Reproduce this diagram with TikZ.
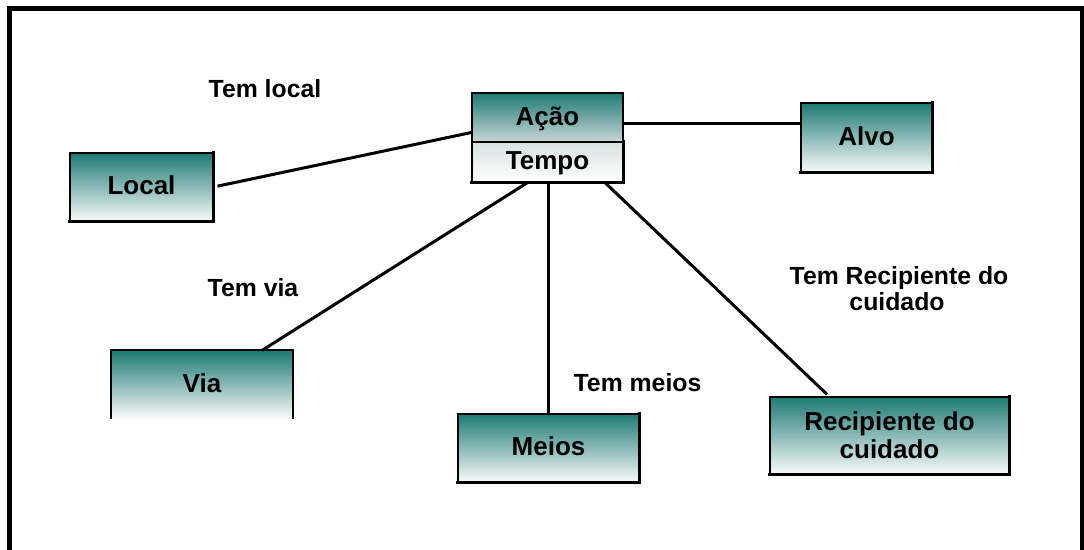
\documentclass[tikz,border=0pt]{standalone}
\usepackage{fontspec}
\setmainfont{Liberation Sans}
\definecolor{boxtop}{RGB}{30,122,116}
\definecolor{boxmid}{RGB}{170,195,193}
\definecolor{boxbot}{RGB}{248,250,250}
\definecolor{tmptop}{RGB}{214,226,225}
\definecolor{acbot}{RGB}{200,215,214}
\begin{document}
\begin{tikzpicture}[x=1pt,y=-1pt,
  box/.style={rectangle, inner sep=0pt, draw=black, line width=1.2pt,
    shading=axis, top color=boxtop, middle color=boxmid, bottom color=boxbot,
    font=\fontsize{26}{28}\selectfont\bfseries, text height=18pt, text depth=3pt},
  lbl/.style={inner sep=0pt, anchor=base, font=\fontsize{24.8}{27}\selectfont\bfseries},
  link/.style={line width=3pt},
  shadowedge/.style={line width=2.6pt, line cap=rect},
  frame/.style={line width=5pt}]
  \useasboundingbox (0,0) rectangle (1084,549);

  % outer frame, open at the bottom
  \draw[frame] (9.5,552) -- (9.5,8.5) -- (1082.5,8.5) -- (1082.5,552);

  % boxes
  \node[box, minimum width=151pt, minimum height=49pt, bottom color=acbot] (acao) at (547.5,117.5) {Ação};
  \node[box, minimum width=151pt, minimum height=40pt, top color=tmptop, bottom color=white,
        middle color=tmptop!50!white] (tempo) at (547.5,162) {Tempo};
  \node[box, minimum width=143pt, minimum height=68pt] (local) at (141.5,187) {Local};
  \node[box, minimum width=131pt, minimum height=69pt] (alvo) at (866.5,137.5) {Alvo};
  \node[box, draw=none, minimum width=180pt, minimum height=67pt] (via) at (202,384.5) {Via};
  \node[box, minimum width=181pt, minimum height=68pt] (meios) at (548.5,448) {Meios};
  \node[box, minimum width=239pt, minimum height=77pt, text height=, text depth=, align=center,
        yshift=-2pt] (recip) at (889.5,433.5) {Recipiente do\\cuidado};

  % heavier lower and right edges
  \foreach \n in {tempo,local,alvo,meios,recip}
    \draw[shadowedge] (\n.south west) -- (\n.south east) -- (\n.north east);
  \draw[line width=1.2pt] (acao.south east) -- (acao.north east);
  \draw[line width=2pt] (via.south west) -- (via.north west) -- (via.north east) -- (via.south east);

  % connectors
  \draw[link, shorten <=4pt] (local.east) -- ([yshift=-15pt]acao.west);
  \coordinate (ae) at ([yshift=-5.5pt]acao.east);
  \draw[link] (ae) -- (ae -| alvo.west);
  \draw[link] ([xshift=-20pt]tempo.south) -- ([xshift=60pt]via.north);
  \draw[link] (tempo.south -| meios.north) -- (meios.north);
  \draw[link] ([xshift=57.5pt]tempo.south) -- ([xshift=-62.5pt, yshift=2pt]recip.north);

  % relation labels
  \node[lbl] (tlocal) at (265,97) {Tem local};
  \node[lbl] (tvia) at (253,296) {Tem via};
  \node[lbl] (tmeios) at (637.5,391) {Tem meios};
  \node[lbl] (trec1) at (899,284) {Tem Recipiente do};
  \node[lbl] (trec2) at (897,310) {cuidado};
\end{tikzpicture}
\end{document}
